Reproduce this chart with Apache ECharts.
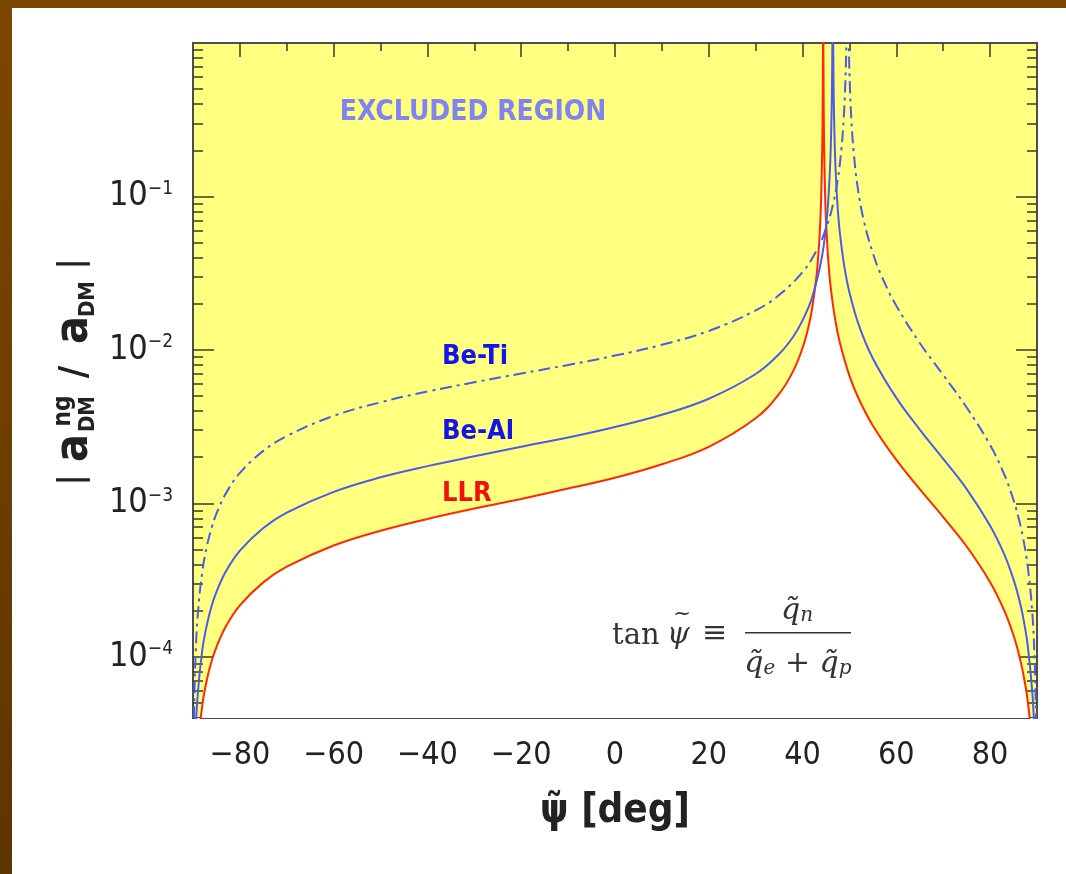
<!DOCTYPE html>
<html>
<head>
<meta charset="utf-8">
<script src="https://cdn.jsdelivr.net/npm/echarts@6/dist/echarts.min.js"></script>
<style>
  html, body { margin: 0; padding: 0; background: #fff; }
  #chart { width: 1066px; height: 874px; }
</style>
</head>
<body>
<div id="chart"></div>
<script>
// LLR bound
const psiLLR = [-89.5,-89,-88,-87,-86,-85,-83,-80,-75,-70,-60,-50,-40,-30,-20,-10,0,10,20,30,35,38,40,41,
  42,43,43.5,43.8,44,44.2,44.3,44.35,44.37,44.43,44.45,44.5,44.6,44.8,45,45.5,
  46,47,48,50,52,55,60,65,70,75,80,83,85,86,87,88,89,89.5];
const valLLR = [1.25e-5,2.47e-5,4.87e-5,7.19e-5,9.43e-5,1.16e-4,1.58e-4,2.17e-4,3.06e-4,3.87e-4,5.32e-4,6.64e-4,
  7.93e-4,9.26e-4,1.07e-3,1.25e-3,1.47e-3,1.80e-3,2.34e-3,3.59e-3,5.17e-3,7.28e-3,1.03e-2,1.31e-2,
  1.83e-2,3.08e-2,4.76e-2,7.10e-2,0.106,0.212,0.422,0.844,1.41,1.40,0.843,0.421,0.210,0.105,6.95e-2,3.76e-2,
  2.56e-2,1.55e-2,1.10e-2,6.78e-3,4.79e-3,3.21e-3,1.92e-3,1.24e-3,8.15e-4,5.24e-4,3.07e-4,2.01e-4,1.38e-4,
  1.08e-4,7.96e-5,5.21e-5,2.56e-5,1.27e-5];

// Be-Al
const psiBeAl = [-89.7,-89.5,-89,-88,-87,-86,-85,-83,-80,-75,-70,-60,-50,-40,-30,-20,-10,0,10,20,30,35,38,40,
  42,44,45,45.5,45.8,46,46.2,46.3,46.35,46.38,46.52,46.55,46.6,46.7,46.9,47.1,
  47.5,48,49,50,52,55,60,65,70,75,80,83,85,86,87,88,89,89.5,89.7];
const valBeAl = [1.72e-5,2.86e-5,5.67e-5,1.12e-4,1.64e-4,2.16e-4,2.65e-4,3.60e-4,4.92e-4,6.92e-4,8.71e-4,1.19e-3,
  1.48e-3,1.75e-3,2.03e-3,2.34e-3,2.69e-3,3.15e-3,3.78e-3,4.81e-3,6.97e-3,9.41e-3,1.22e-2,1.56e-2,
  2.18e-2,3.84e-2,6.37e-2,9.64e-2,0.140,0.202,0.362,0.602,0.902,1.29,1.28,0.899,0.599,0.358,0.198,0.137,
  8.41e-2,5.64e-2,3.36e-2,2.37e-2,1.45e-2,8.80e-3,4.87e-3,3.03e-3,1.95e-3,1.24e-3,7.16e-4,4.67e-4,3.19e-4,
  2.50e-4,1.84e-4,1.20e-4,5.88e-5,2.91e-5,1.74e-5];

// Be-Ti
const psiBeTi = [-89.9,-89.7,-89.5,-89,-88,-87,-86,-85,-83,-80,-75,-70,-60,-50,-40,-30,-20,-10,0,10,20,30,35,40,
  43,45,46.5,47.5,48.3,48.8,49.1,49.3,49.4,49.8,49.9,50.1,50.4,50.9,51.7,53,
  55,57,60,65,70,75,80,83,85,86,87,88,89,89.5,89.7,89.9];
const valBeTi = [1.88e-5,5.62e-5,9.33e-5,1.85e-4,3.62e-4,5.33e-4,6.98e-4,8.57e-4,1.16e-3,1.58e-3,2.20e-3,2.75e-3,
  3.72e-3,4.56e-3,5.36e-3,6.16e-3,7.02e-3,7.99e-3,9.19e-3,1.08e-2,1.33e-2,1.81e-2,2.28e-2,3.22e-2,
  4.45e-2,6.17e-2,8.91e-2,0.129,0.205,0.330,0.525,0.872,1.31,1.29,0.861,0.515,0.320,0.195,0.118,7.10e-2,
  4.27e-2,2.96e-2,1.94e-2,1.11e-2,6.87e-3,4.22e-3,2.40e-3,1.55e-3,1.05e-3,8.23e-4,6.03e-4,3.93e-4,1.93e-4,
  9.52e-5,5.69e-5,1.89e-5];

const xMajorTicks = [-80, -60, -40, -20, 0, 20, 40, 60, 80];
const xMinorTicks = [-70, -50, -30, -10, 10, 30, 50, 70];
const yMajorTicks = [1e-4, 1e-3, 1e-2, 1e-1];
const yDecades = [1e-5, 1e-4, 1e-3, 1e-2, 1e-1];
const yMultipliers = [2, 3, 4, 5, 6, 7, 8, 9];

const X_MIN = -90, X_MAX = 90, Y_MIN = 4e-5, Y_MAX = 1;

const yMinorTicks = [];
yDecades.forEach(d => yMultipliers.forEach(m => {
  const v = d * m;
  if (v >= Y_MIN && v <= Y_MAX) yMinorTicks.push(v);
}));

const toPairs = (xs, ys) => xs.map((x, i) => [x, ys[i]]);

const FONT = "'DejaVu Sans Condensed', 'DejaVu Sans', sans-serif";
const SERIF = "'DejaVu Serif', 'Liberation Serif', serif";
const axisLineStyle = { color: '#4d4d4d', width: 2 };
const tickStyle = { color: '#3a3a2a', width: 1.5 };

const makeX = (position, ticks, len, withLabels) => ({
  type: 'value', position, min: X_MIN, max: X_MAX,
  axisLine: { show: true, onZero: false, lineStyle: axisLineStyle },
  axisTick: { show: true, inside: true, length: len, customValues: ticks, lineStyle: tickStyle },
  axisLabel: withLabels ? {
    show: true, customValues: ticks, margin: 22, color: '#222',
    fontSize: 32, fontFamily: FONT,
    formatter: v => String(v).replace('-', '\u2212')
  } : { show: false },
  splitLine: { show: false }
});

const makeY = (position, ticks, len, withLabels) => ({
  type: 'log', logBase: 10, position, min: Y_MIN, max: Y_MAX,
  axisLine: { show: true, onZero: false, lineStyle: axisLineStyle },
  axisTick: { show: true, inside: true, length: len, customValues: ticks, lineStyle: tickStyle },
  axisLabel: withLabels ? {
    show: true, customValues: ticks, margin: 20,
    formatter: v => '{b|10}{s|\u2212' + (-Math.round(Math.log10(v))) + '}',
    rich: {
      b: { fontSize: 34, lineHeight: 34, fontFamily: FONT, color: '#222' },
      s: { fontSize: 19, lineHeight: 19, fontFamily: FONT, color: '#222', verticalAlign: 'top' }
    }
  } : { show: false },
  splitLine: { show: false },
  minorTick: { show: false }
});

const xAxes = [
  makeX('bottom', xMajorTicks, 14, true),
  makeX('bottom', xMinorTicks, 8, false),
  makeX('top', xMajorTicks, 14, false),
  makeX('top', xMinorTicks, 8, false)
];
xAxes[0].name = '\u03c8\u0303 [deg]';
xAxes[0].nameLocation = 'middle';
xAxes[0].nameGap = 74;
xAxes[0].nameTextStyle = { fontSize: 40, fontWeight: 'bold', fontFamily: FONT, color: '#222' };

const yAxes = [
  makeY('left', yMajorTicks, 21, true),
  makeY('left', yMinorTicks, 10, false),
  makeY('right', yMajorTicks, 21, false),
  makeY('right', yMinorTicks, 10, false)
];

// y axis title, drawn piece by piece so ng sits over DM
const yTitleParts = [
  { text: '|', x: 73, y: 480, size: 34 },
  { text: 'a', x: 75, y: 448, size: 46 },
  { text: 'ng', x: 64, y: 411, size: 24 },
  { text: 'DM', x: 88, y: 414, size: 22 },
  { text: '/', x: 75, y: 372, size: 38 },
  { text: 'a', x: 75, y: 330, size: 46 },
  { text: 'DM', x: 88, y: 299, size: 22 },
  { text: '|', x: 73, y: 264, size: 34 }
];

const serifText = (x, y, text, size, italic) => ({
  type: 'text', x, y, z: 50,
  style: { text, align: 'left', verticalAlign: 'middle', fill: '#333',
    font: (italic ? 'italic ' : '') + size + 'px ' + SERIF }
});

const graphics = [
  { type: 'rect', silent: true, z: 100, shape: { x: 0, y: 0, width: 1066, height: 8 }, style: { fill: '#7c4600' } },
  { type: 'rect', silent: true, z: 100, shape: { x: 0, y: 0, width: 12, height: 874 },
    style: { fill: new echarts.graphic.LinearGradient(0, 0, 0, 1, [
      { offset: 0, color: '#7e4700' }, { offset: 1, color: '#5e3400' }]) } },
  { type: 'text', x: 473, y: 113, z: 50, style: { text: 'EXCLUDED REGION', align: 'center', verticalAlign: 'middle',
    font: 'bold 28px ' + FONT, fill: '#8084f2' } },
  { type: 'text', x: 442, y: 357, z: 50, style: { text: 'Be-Ti', align: 'left', verticalAlign: 'middle',
    font: 'bold 27px ' + FONT, fill: '#1414e8' } },
  { type: 'text', x: 442, y: 432, z: 50, style: { text: 'Be-Al', align: 'left', verticalAlign: 'middle',
    font: 'bold 27px ' + FONT, fill: '#1414e8' } },
  { type: 'text', x: 442, y: 494, z: 50, style: { text: 'LLR', align: 'left', verticalAlign: 'middle',
    font: 'bold 27px ' + FONT, fill: '#f01010' } },
  // tan psi = q_n / (q_e + q_p)
  serifText(612, 636, 'tan', 29, false),
  serifText(667, 635, '\u03c8', 29, true),
  serifText(673, 614, '~', 22, false),
  serifText(702, 634, '\u2261', 30, false),
  { type: 'rect', z: 50, shape: { x: 745, y: 632, width: 106, height: 1.5 }, style: { fill: '#333' } },
  { type: 'text', x: 797, y: 611, z: 50, style: {
    text: '{i|q\u0303}{s|n}', align: 'center', verticalAlign: 'middle',
    rich: { i: { fontSize: 30, lineHeight: 30, fontFamily: SERIF, fontStyle: 'italic', fill: '#333' },
            s: { fontSize: 20, lineHeight: 20, fontFamily: SERIF, fontStyle: 'italic', fill: '#333', verticalAlign: 'bottom' } } } },
  { type: 'text', x: 798, y: 664, z: 50, style: {
    text: '{i|q\u0303}{s|e}{r| + }{i|q\u0303}{s|p}', align: 'center', verticalAlign: 'middle',
    rich: { i: { fontSize: 30, lineHeight: 30, fontFamily: SERIF, fontStyle: 'italic', fill: '#333' },
            r: { fontSize: 30, lineHeight: 30, fontFamily: SERIF, fill: '#333' },
            s: { fontSize: 20, lineHeight: 20, fontFamily: SERIF, fontStyle: 'italic', fill: '#333', verticalAlign: 'bottom' } } } }
];

yTitleParts.forEach(p => graphics.push({
  type: 'text', x: p.x, y: p.y, rotation: Math.PI / 2, z: 50,
  style: { text: p.text, align: 'center', verticalAlign: 'middle',
    font: 'bold ' + p.size + 'px ' + FONT, fill: '#222' }
}));

const chart = echarts.init(document.getElementById('chart'), null, { renderer: 'canvas' });
chart.setOption({
  animation: false,
  backgroundColor: '#ffffff',
  grid: {
    left: 193, right: 29, top: 43, bottom: 156,
    show: true, backgroundColor: '#ffff80', borderWidth: 0,
    containLabel: false, outerBoundsMode: 'none'
  },
  xAxis: xAxes,
  yAxis: yAxes,
  series: [
    {
      name: 'LLR', type: 'line', data: toPairs(psiLLR, valLLR),
      symbol: 'none', smooth: 0.4, clip: true, z: 2,
      lineStyle: { color: '#ff2a00', width: 2 },
      areaStyle: { color: '#ffffff', opacity: 1, origin: 'start' }
    },
    {
      name: 'Be-Al', type: 'line', data: toPairs(psiBeAl, valBeAl),
      symbol: 'none', smooth: 0.4, clip: true, z: 3,
      lineStyle: { color: '#4b5ce8', width: 2 }
    },
    {
      name: 'Be-Ti', type: 'line', data: toPairs(psiBeTi, valBeTi),
      symbol: 'none', smooth: 0.4, clip: true, z: 3,
      lineStyle: { color: '#4b5ce8', width: 2, type: [12, 5, 3, 5] }
    }
  ],
  graphic: graphics
});
</script>
</body>
</html>
